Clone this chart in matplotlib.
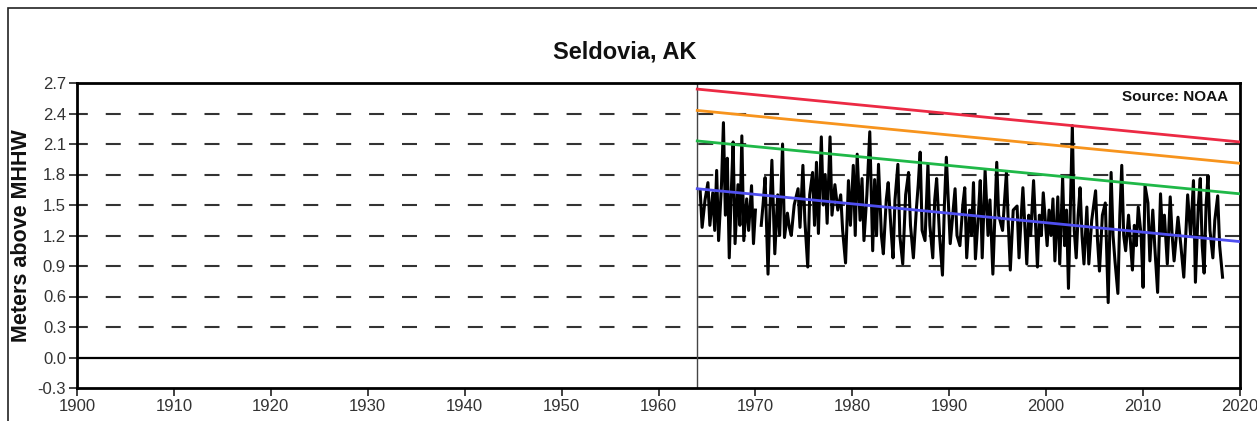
import matplotlib
matplotlib.use("Agg")
import matplotlib.pyplot as plt
import numpy as np
from matplotlib.patches import Rectangle

# ---- data ------------------------------------------------------------------
years = [
    1964.3, 1964.5, 1964.8, 1965.1, 1965.3, 1965.6, 1965.8, 1966.0, 1966.2, 1966.5,
    1966.7, 1966.9, 1967.1, 1967.3, 1967.5, 1967.7, 1967.9, 1968.2, 1968.4, 1968.6,
    1968.8, 1969.1, 1969.3, 1969.6, 1969.8, 1970.0, 1970.3, 1970.6, 1970.8, 1971.0,
    1971.3, 1971.5, 1971.7, 1972.0, 1972.3, 1972.5, 1972.8, 1973.0, 1973.3, 1973.5,
    1973.7, 1974.0, 1974.4, 1974.6, 1974.9, 1975.1, 1975.4, 1975.6, 1975.9, 1976.1,
    1976.3, 1976.5, 1976.8, 1977.0, 1977.2, 1977.4, 1977.7, 1977.9, 1978.2, 1978.5,
    1978.8, 1979.0, 1979.3, 1979.6, 1979.8, 1980.1, 1980.3, 1980.5, 1980.8, 1981.0,
    1981.2, 1981.5, 1981.8, 1982.1, 1982.3, 1982.5, 1982.7, 1983.0, 1983.2, 1983.5,
    1983.7, 1984.0, 1984.2, 1984.4, 1984.7, 1984.9, 1985.2, 1985.5, 1985.8, 1986.0,
    1986.3, 1986.6, 1986.8, 1987.0, 1987.2, 1987.5, 1987.8, 1988.0, 1988.3, 1988.5,
    1988.7, 1989.0, 1989.3, 1989.5, 1989.7, 1990.1, 1990.4, 1990.6, 1990.8, 1991.1,
    1991.4, 1991.6, 1991.8, 1992.1, 1992.3, 1992.5, 1992.7, 1993.0, 1993.2, 1993.4,
    1993.7, 1994.0, 1994.2, 1994.5, 1994.9, 1995.1, 1995.5, 1995.9, 1996.1, 1996.3,
    1996.6, 1997.0, 1997.2, 1997.4, 1997.6, 1998.0, 1998.2, 1998.4, 1998.7, 1999.1,
    1999.3, 1999.5, 1999.7, 2000.1, 2000.3, 2000.5, 2000.7, 2000.9, 2001.2, 2001.4,
    2001.7, 2001.9, 2002.1, 2002.3, 2002.5, 2002.7, 2002.9, 2003.1, 2003.3, 2003.5,
    2003.7, 2003.9, 2004.2, 2004.4, 2004.7, 2005.1, 2005.3, 2005.5, 2005.8, 2006.1,
    2006.4, 2006.7, 2006.9, 2007.1, 2007.4, 2007.6, 2007.8, 2008.0, 2008.2, 2008.5,
    2008.9, 2009.1, 2009.3, 2009.5, 2009.8, 2010.0, 2010.2, 2010.5, 2010.7, 2011.0,
    2011.2, 2011.5, 2011.8, 2012.0, 2012.2, 2012.5, 2012.8, 2013.0, 2013.2, 2013.6,
    2013.9, 2014.2, 2014.6, 2014.9, 2015.2, 2015.4, 2015.7, 2015.9, 2016.1, 2016.3,
    2016.5, 2016.7, 2016.9, 2017.2, 2017.4, 2017.7, 2017.9, 2018.2,
]
levels = [
    1.64, 1.28, 1.55, 1.72, 1.30, 1.62, 1.25, 1.84, 1.15, 1.70,
    2.31, 1.40, 1.96, 0.98, 1.60, 2.12, 1.12, 1.70, 1.30, 2.18,
    1.15, 1.56, 1.25, 1.69, 1.12, 1.45, np.nan, 1.30, 1.52, 1.77,
    0.82, 1.45, 1.94, 1.02, 1.60, 1.20, 2.10, 1.18, 1.42, 1.28,
    1.20, 1.50, 1.66, 1.28, 1.89, 1.35, 0.89, 1.60, 1.82, 1.30,
    1.92, 1.22, 2.17, 1.50, 1.80, 1.32, 2.17, 1.40, 1.70, 1.45,
    1.60, 1.25, 0.93, 1.74, 1.30, 1.89, 1.20, 2.00, 1.35, 1.76,
    1.15, 1.60, 2.22, 1.05, 1.75, 1.20, 1.90, 1.20, 1.02, 1.55,
    1.72, 1.25, 0.98, 1.55, 1.90, 1.20, 0.92, 1.60, 1.82, 1.30,
    0.98, 1.45, 1.70, 2.02, 1.25, 1.15, 1.90, 1.30, 0.98, 1.55,
    1.76, 1.20, 0.81, 1.50, 1.97, 1.12, 1.45, 1.66, 1.20, 1.10,
    1.50, 1.67, 0.98, 1.45, 1.20, 1.72, 0.97, 1.40, 1.74, 0.98,
    1.84, 1.20, 1.55, 0.82, 1.92, 1.40, 1.25, 1.82, 1.30, 0.86,
    1.45, 1.49, 0.98, 1.35, 1.67, 0.92, 1.40, 1.20, 1.74, 0.89,
    1.40, 1.20, 1.62, 1.10, 1.45, 1.20, 1.56, 0.95, 1.58, 0.92,
    1.77, 1.10, 1.45, 0.68, 1.50, 2.28, 1.25, 0.98, 1.40, 1.67,
    1.20, 0.92, 1.48, 0.92, 1.35, 1.64, 1.15, 0.85, 1.40, 1.52,
    0.54, 1.82, 1.20, 0.95, 0.63, 1.40, 1.89, 1.20, 1.05, 1.40,
    0.86, 1.30, 1.10, 1.48, 1.20, 0.69, 1.69, 1.52, 0.95, 1.45,
    1.10, 0.64, 1.61, 1.20, 1.40, 0.92, 1.58, 1.20, 0.95, 1.38,
    1.10, 0.79, 1.60, 1.20, 1.74, 0.74, 1.50, 1.76, 1.10, 0.83,
    1.50, 1.79, 1.25, 0.98, 1.35, 1.59, 1.10, 0.79,
]

# trend lines: value at start/end year
trend_years = [1964.0, 2020.0]
trend_red    = [2.64, 2.12]
trend_orange = [2.43, 1.91]
trend_green  = [2.13, 1.61]
trend_blue   = [1.66, 1.14]

grid_levels = [0.3, 0.6, 0.9, 1.2, 1.5, 1.8, 2.1, 2.4]
yticks = [-0.3, 0.0, 0.3, 0.6, 0.9, 1.2, 1.5, 1.8, 2.1, 2.4, 2.7]
xticks = list(range(1900, 2021, 10))

# ---- figure ----------------------------------------------------------------
plt.rcParams["font.family"] = ["Liberation Sans", "DejaVu Sans"]
W, H = 1257, 421
fig = plt.figure(figsize=(W / 100, H / 100), dpi=100)
fig.add_artist(Rectangle((8 / W, -0.05), 1.1, (H - 8) / H + 0.05,
                         transform=fig.transFigure, fill=False,
                         edgecolor="#222222", lw=1.2))

ax = fig.add_axes([77 / W, 33 / H, (1240 - 77) / W, (388 - 83) / H])

for g in grid_levels:
    ax.axhline(g, color="#333333", lw=1.5, ls=(2, (7.2, 8.6)), zorder=1)
ax.axhline(0.0, color="black", lw=1.6, zorder=2)
ax.axvline(1964.0, color="#444444", lw=1.0, zorder=2)

ax.plot(years, levels, color="black", lw=2.2, zorder=3)

ax.plot(trend_years, trend_red, color="#ec2a44", lw=2.0, zorder=4)
ax.plot(trend_years, trend_orange, color="#f7941d", lw=2.0, zorder=4)
ax.plot(trend_years, trend_green, color="#1fb848", lw=2.0, zorder=4)
ax.plot(trend_years, trend_blue, color="#4f4ff0", lw=2.0, zorder=4)

ax.set_xlim(1900, 2020)
ax.set_ylim(-0.3, 2.7)
ax.set_xticks(xticks)
ax.set_yticks(yticks)
ax.set_yticklabels([f"{v:.1f}" for v in yticks])
for s in ax.spines.values():
    s.set_linewidth(2.0)
    s.set_color("black")
ax.tick_params(direction="out", length=6, width=1.3, color="#333333",
               labelsize=12, labelcolor="#333333", pad=2)

ax.set_ylabel("Meters above MHHW", fontsize=15.5, fontweight="bold",
              color="#111111", labelpad=4)
fig.text(625 / W, 1 - 52 / H, "Seldovia, AK", fontsize=17, fontweight="bold",
         ha="center", va="center", color="#111111")
ax.text(0.99, 0.955, "Source: NOAA", transform=ax.transAxes, ha="right",
        va="center", fontsize=11, fontweight="bold", color="#111111", zorder=5)

fig.savefig("out.png", dpi=100, facecolor="white")
